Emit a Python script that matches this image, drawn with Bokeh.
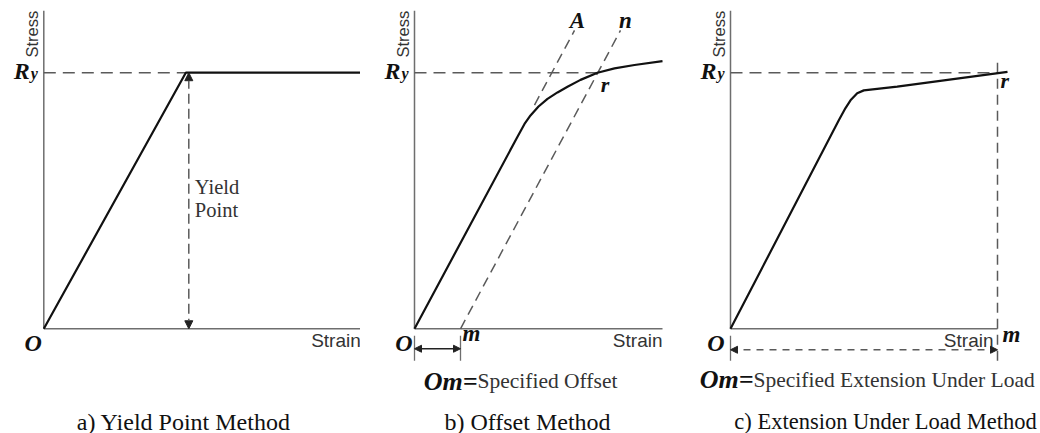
import math

from bokeh.embed import file_html
from bokeh.layouts import row
from bokeh.models import Arrow, Label, NormalHead, Range1d
from bokeh.plotting import figure
from bokeh.resources import INLINE

# ---------------------------------------------------------------------------
# Data: stress normalised by the yield stress Ry, strain in arbitrary units
# ---------------------------------------------------------------------------
RY = 1.0

# a) sharp yield point: linear-elastic, then perfectly plastic
STRAIN_A = [0.0, 1.42, 3.17]
STRESS_A = [0.0, 1.00, 1.00]

# b) gradual yielding, resolved with the offset construction
STRAIN_B = [0.0, 1.03, 1.10, 1.16, 1.24, 1.33, 1.43, 1.53, 1.66, 1.83, 2.00, 2.20, 2.48]
STRESS_B = [0.0, 0.750, 0.800, 0.833, 0.868, 0.898, 0.923, 0.945, 0.972, 1.000, 1.017, 1.030, 1.045]
OFFSET_M = 0.46            # Om, the specified offset
LINE_A_SPAN = [1.20, 1.60]  # elastic line continued (dashed) past the knee, towards A
LINE_N_END = 2.06          # strain at the top end n of the offset line

# c) extension under load
STRAIN_C = [0.0, 1.083, 1.15, 1.20, 1.267, 1.333, 1.667, 2.77]
STRESS_C = [0.0, 0.814, 0.862, 0.892, 0.920, 0.931, 0.946, 1.003]
EXTENSION_M = 2.67         # Om, the specified extension under load

CAPTIONS = ["a) Yield Point Method", "b) Offset Method", "c) Extension Under Load Method"]

# ---------------------------------------------------------------------------
# Styling
# ---------------------------------------------------------------------------
H = 433
Y_LO, Y_HI = -0.409, 1.282
AXIS_TOP = 1.242
SERIF = "Liberation Serif"
SANS = "Liberation Sans"
INK = "#111111"
AXIS_COLOR = "#6e6e6e"
DASH_COLOR = "#5a5a5a"
TEXT_GREY = "#333333"
HEAD_COLOR = "#222222"


def make_panel(width, x_lo):
    p = figure(width=width, height=H,
               x_range=Range1d(x_lo, x_lo + width / 100.0),
               y_range=Range1d(Y_LO, Y_HI),
               toolbar_location=None, output_backend="svg",
               x_axis_location=None, y_axis_location=None,
               min_border=0)
    p.outline_line_color = None
    p.grid.visible = False
    p.background_fill_color = "white"
    p.border_fill_color = "white"
    return p


def label(p, x, y, text, size, font=SERIF, style="normal", color=INK,
          align="left", baseline="middle", dx=0, dy=0, angle=0.0):
    p.add_layout(Label(x=x, y=y, text=text, text_font=font,
                       text_font_size=f"{size}px", text_font_style=style,
                       text_color=color, text_align=align,
                       text_baseline=baseline, x_offset=dx, y_offset=dy,
                       angle=angle))


def frame(p, x_end, strain_dx=0, origin_dx=-2):
    # plain stress/strain axes with labels, origin O and the Ry mark
    p.line([0, 0], [0, AXIS_TOP], line_color=AXIS_COLOR, line_width=1.5)
    p.line([0, x_end], [0, 0], line_color=AXIS_COLOR, line_width=1.5)
    label(p, 0, AXIS_TOP, "Stress", 16.5, font=SANS, color=TEXT_GREY,
          align="right", baseline="bottom", dx=-3, angle=math.pi / 2)
    label(p, x_end, 0, "Strain", 19, font=SANS, color=TEXT_GREY,
          align="right", baseline="top", dx=strain_dx, dy=-1)
    label(p, 0, 0, "O", 24, style="bold italic", align="right",
          baseline="top", dx=origin_dx, dy=-1)
    label(p, 0, RY, "R", 24, style="bold italic", align="right", dx=-14, dy=2)
    label(p, 0, RY, "y", 16, style="bold italic", align="right", dx=-6, dy=-1)


def caption(p, x, text, size):
    label(p, x, Y_LO, text, size, dy=12, align="center")


def head(size=8):
    return NormalHead(size=size, fill_color=HEAD_COLOR, line_color=HEAD_COLOR)


# ---------------------------------------------------------------------------
# a) Yield point method
# ---------------------------------------------------------------------------
pa = make_panel(360, -0.433)
frame(pa, STRAIN_A[-1])
pa.line([0, STRAIN_A[1]], [RY, RY], line_color=DASH_COLOR, line_width=1.5,
        line_dash="12 7")
pa.line(STRAIN_A, STRESS_A, line_color=INK, line_width=2.2)
x_yield = STRAIN_A[1] + 0.03
pa.add_layout(Arrow(x_start=x_yield, y_start=0, x_end=x_yield, y_end=RY,
                    start=head(), end=head(), line_color=DASH_COLOR,
                    line_width=1.5, line_dash="10 5"))
label(pa, x_yield, 0.554, "Yield", 20.5, color=TEXT_GREY, dx=6)
label(pa, x_yield, 0.462, "Point", 20.5, color=TEXT_GREY, dx=6)
caption(pa, 1.40, CAPTIONS[0], 24)

# ---------------------------------------------------------------------------
# b) Offset method
# ---------------------------------------------------------------------------
pb = make_panel(320, -0.54)
frame(pb, STRAIN_B[-1])
E_B = STRESS_B[1] / STRAIN_B[1]
r_strain = OFFSET_M + RY / E_B
pb.line([0, r_strain], [RY, RY], line_color=DASH_COLOR, line_width=1.5,
        line_dash="12 7")
pb.line(LINE_A_SPAN, [E_B * s for s in LINE_A_SPAN], line_color=DASH_COLOR,
        line_width=1.5, line_dash="10 6")
pb.line([OFFSET_M, LINE_N_END], [0, E_B * (LINE_N_END - OFFSET_M)],
        line_color=DASH_COLOR, line_width=1.5, line_dash="10 6")
pb.line(STRAIN_B, STRESS_B, line_color=INK, line_width=2.2)
label(pb, LINE_A_SPAN[1], E_B * LINE_A_SPAN[1], "A", 23, style="bold italic",
      align="center", dx=3, dy=10)
label(pb, LINE_N_END, E_B * (LINE_N_END - OFFSET_M), "n", 23,
      style="bold italic", align="center", dx=5, dy=10)
label(pb, r_strain, RY, "r", 22, style="bold italic", dx=3, dy=-12)
label(pb, OFFSET_M, 0, "m", 23, style="bold italic", dx=2, dy=-5)
for xt in (0, OFFSET_M):
    pb.line([xt, xt], [-0.027, -0.125], line_color=AXIS_COLOR, line_width=1.3)
pb.add_layout(Arrow(x_start=0, y_start=-0.078, x_end=OFFSET_M, y_end=-0.078,
                    start=head(7), end=head(7),
                    line_color=HEAD_COLOR, line_width=1.3))
label(pb, 0.63, -0.204, "Om=", 26, style="bold italic", align="right")
label(pb, 0.63, -0.204, "Specified Offset", 21.5, color=TEXT_GREY)
caption(pb, 1.13, CAPTIONS[1], 24)

# ---------------------------------------------------------------------------
# c) Extension under load method
# ---------------------------------------------------------------------------
pc = make_panel(360, -0.50)
frame(pc, EXTENSION_M, strain_dx=-4, origin_dx=-6)
pc.line([0, EXTENSION_M], [RY, RY], line_color=DASH_COLOR, line_width=1.5,
        line_dash="12 7")
pc.line([EXTENSION_M, EXTENSION_M], [-0.125, 1.04], line_color=DASH_COLOR,
        line_width=1.5, line_dash="10 6")
pc.line(STRAIN_C, STRESS_C, line_color=INK, line_width=2.2)
label(pc, EXTENSION_M, RY, "r", 22, style="bold italic", dx=3, dy=-8)
label(pc, EXTENSION_M, 0, "m", 23, style="bold italic", dx=5, dy=-6)
pc.line([0, 0], [-0.027, -0.125], line_color=AXIS_COLOR, line_width=1.3)
pc.add_layout(Arrow(x_start=0, y_start=-0.082, x_end=EXTENSION_M, y_end=-0.082,
                    start=head(7), end=head(7),
                    line_color=DASH_COLOR, line_width=1.3, line_dash="7 6"))
label(pc, 0.23, -0.200, "Om=", 26, style="bold italic", align="right")
label(pc, 0.23, -0.200, "Specified Extension Under Load", 21.5, color=TEXT_GREY)
caption(pc, 1.55, CAPTIONS[2], 22.5)

layout = row(pa, pb, pc)
open("out.html", "w").write(file_html(layout, INLINE))
